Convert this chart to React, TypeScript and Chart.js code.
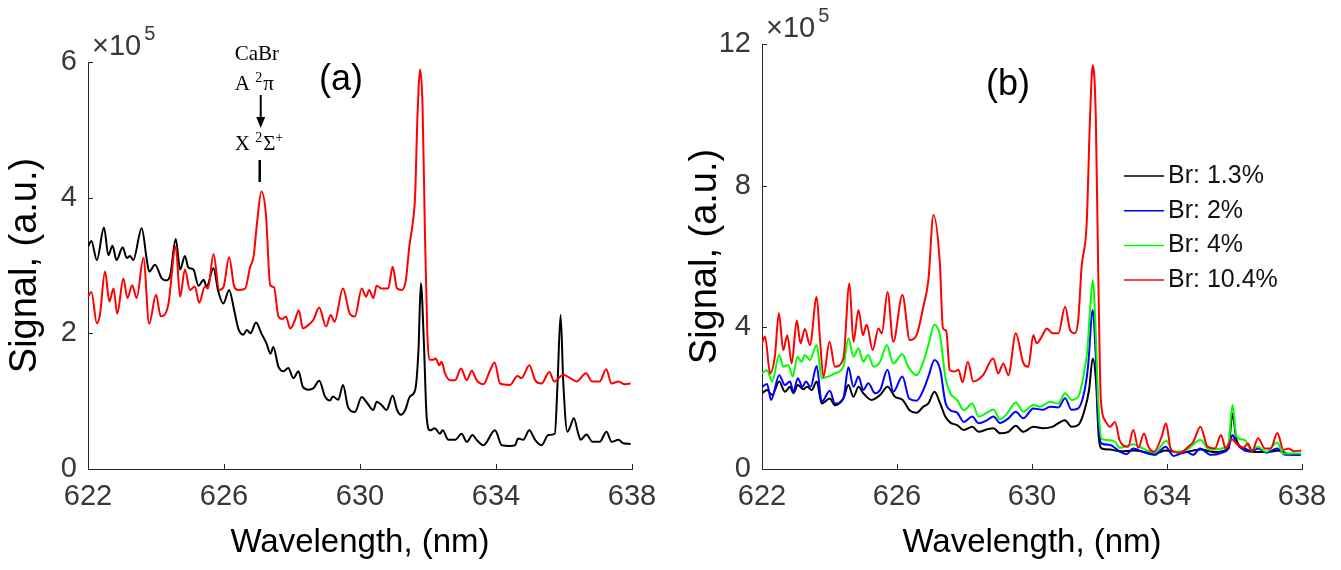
import React, { useEffect, useRef } from "react";
import { Chart, registerables } from "chart.js";

Chart.register(...registerables);

// ---------------- Panel (a) data (signal in units of 1e5) ----------------
const aBlackX = [
  622.0, 622.1, 622.26, 622.47, 622.6, 622.72, 622.84, 623.02, 623.14, 623.24, 623.33, 623.58, 623.73, 623.8,
  623.97, 624.17, 624.3, 624.42, 624.58, 624.71, 624.85, 624.95, 625.1, 625.25, 625.4, 625.49, 625.69, 625.83,
  625.98, 626.15, 626.3, 626.42, 626.57, 626.67, 626.78, 626.94, 627.1, 627.25, 627.37, 627.45, 627.6, 627.75,
  627.89, 628.04, 628.19, 628.32, 628.48, 628.63, 628.8, 628.97, 629.12, 629.2, 629.36, 629.5, 629.65, 629.85,
  630.05, 630.2, 630.39, 630.49, 630.64, 630.78, 630.96, 631.09, 631.2, 631.33, 631.47, 631.62, 631.72, 631.79,
  631.88, 631.96, 632.06, 632.2, 632.35, 632.43, 632.6, 632.8, 632.99, 633.14, 633.31, 633.43, 633.63, 633.97,
  634.17, 634.41, 634.56, 634.65, 634.8, 634.98, 635.15, 635.34, 635.54, 635.73, 635.81, 635.9, 635.98, 636.1,
  636.18, 636.29, 636.42, 636.49, 636.66, 636.84, 637.05, 637.25, 637.4, 637.6, 637.74, 637.96,
];
const aBlackY = [
  3.28, 3.36, 3.08, 3.56, 3.15, 3.29, 3.08, 3.27, 3.11, 3.14, 3.08, 3.55, 3.08, 2.91,
  3.01, 2.81, 2.78, 2.86, 3.39, 2.94, 3.14, 2.97, 2.94, 2.7, 2.79, 2.69, 2.96, 2.62,
  2.44, 2.64, 2.34, 2.07, 1.98, 2.05, 2.0, 2.16, 2.0, 1.85, 1.7, 1.8, 1.51, 1.44,
  1.49, 1.34, 1.44, 1.21, 1.17, 1.19, 1.3, 1.07, 1.01, 1.07, 1.02, 1.24, 0.91, 0.84,
  1.06, 0.98, 0.87, 0.99, 0.94, 0.87, 1.08, 0.87, 0.8, 0.87, 1.07, 1.16, 1.76, 2.74,
  1.85, 0.77, 0.57, 0.6, 0.52, 0.57, 0.43, 0.43, 0.52, 0.4, 0.5, 0.43, 0.35, 0.57,
  0.35, 0.34, 0.35, 0.45, 0.43, 0.57, 0.43, 0.35, 0.5, 0.52, 1.26, 2.27, 1.26, 0.55,
  0.62, 0.75, 0.52, 0.43, 0.51, 0.4, 0.4, 0.55, 0.4, 0.43, 0.38, 0.37,
];
const aRedX = [
  622.0, 622.1, 622.26, 622.35, 622.5, 622.63, 622.75, 622.86, 623.04, 623.16, 623.3, 623.43, 623.63, 623.8,
  624.0, 624.14, 624.36, 624.58, 624.71, 624.85, 625.0, 625.14, 625.27, 625.44, 625.53, 625.69, 625.86, 625.99,
  626.15, 626.3, 626.42, 626.62, 626.77, 626.87, 626.97, 627.1, 627.23, 627.36, 627.47, 627.6, 627.72, 627.82,
  627.95, 628.09, 628.2, 628.32, 628.45, 628.63, 628.8, 629.0, 629.14, 629.25, 629.5, 629.7, 629.85, 630.05,
  630.18, 630.27, 630.39, 630.49, 630.64, 630.83, 630.96, 631.09, 631.23, 631.35, 631.45, 631.55, 631.62, 631.69,
  631.77, 631.84, 631.91, 631.98, 632.04, 632.16, 632.23, 632.33, 632.4, 632.5, 632.65, 632.8, 632.97, 633.14,
  633.29, 633.43, 633.63, 633.83, 633.96, 634.12, 634.41, 634.63, 634.75, 634.98, 635.15, 635.34, 635.57, 635.71,
  635.98, 636.18, 636.37, 636.65, 636.82, 637.05, 637.24, 637.4, 637.6, 637.79, 637.96,
];
const aRedY = [
  2.54, 2.61, 2.15, 2.27, 2.91, 2.47, 2.66, 2.29, 2.81, 2.52, 2.71, 2.52, 3.11, 2.14,
  2.57, 2.25, 2.42, 3.28, 2.54, 2.94, 2.64, 2.69, 2.45, 2.69, 2.66, 3.17, 2.64, 2.69,
  3.12, 2.69, 2.64, 2.66, 2.98, 3.13, 3.62, 4.09, 3.77, 2.71, 2.68, 2.25, 2.21, 2.25,
  2.07, 2.2, 2.34, 2.07, 2.11, 2.2, 2.38, 2.1, 2.27, 2.17, 2.66, 2.29, 2.25, 2.66,
  2.54, 2.64, 2.52, 2.7, 2.66, 2.66, 2.98, 2.66, 2.64, 2.79, 3.28, 3.62, 4.02, 5.2,
  5.89, 5.34, 3.48, 2.0, 1.61, 1.61, 1.63, 1.53, 1.58, 1.41, 1.31, 1.31, 1.48, 1.31,
  1.45, 1.31, 1.25, 1.46, 1.57, 1.26, 1.24, 1.37, 1.34, 1.53, 1.31, 1.26, 1.43, 1.29,
  1.39, 1.34, 1.29, 1.41, 1.29, 1.29, 1.47, 1.26, 1.29, 1.25, 1.26,
];

// ---------------- Panel (b) data (signal in units of 1e5) ----------------
const bBlackX = [
  622.0, 622.15, 622.3, 622.51, 622.68, 622.83, 622.93, 623.06, 623.22, 623.34, 623.47, 623.62, 623.77, 624.01,
  624.16, 624.41, 624.56, 624.71, 624.86, 625.0, 625.25, 625.5, 625.72, 625.94, 626.17, 626.37, 626.58, 626.78,
  626.93, 627.11, 627.28, 627.43, 627.58, 627.78, 627.98, 628.23, 628.42, 628.67, 628.86, 629.05, 629.3, 629.52,
  629.74, 630.04, 630.33, 630.6, 630.98, 631.17, 631.37, 631.56, 631.69, 631.8, 631.9, 631.97, 632.06, 632.31,
  632.6, 633.0, 633.64, 633.96, 634.38, 634.99, 635.4, 635.82, 635.94, 636.06, 636.3, 636.6, 637.0, 637.3,
  637.6, 637.96,
];
const bBlackY = [
  2.14, 2.23, 2.09, 2.47, 2.18, 2.32, 2.14, 2.37, 2.25, 2.32, 2.23, 2.47, 1.85, 1.99,
  1.8, 1.99, 2.37, 2.04, 2.32, 2.14, 1.95, 2.09, 2.32, 2.04, 1.95, 1.66, 1.59, 1.76,
  1.85, 2.18, 1.85, 1.48, 1.31, 1.24, 1.1, 1.19, 1.05, 1.12, 1.15, 1.01, 1.05, 1.22,
  1.05, 1.19, 1.15, 1.19, 1.38, 1.19, 1.24, 1.67, 2.23, 3.12, 2.42, 1.0, 0.58, 0.55,
  0.5, 0.52, 0.44, 0.52, 0.46, 0.55, 0.48, 0.58, 1.57, 0.82, 0.58, 0.48, 0.48, 0.52,
  0.42, 0.4,
];
const bBlueX = [
  622.0, 622.15, 622.27, 622.51, 622.68, 622.83, 622.93, 623.06, 623.2, 623.3, 623.44, 623.62, 623.77, 624.01,
  624.16, 624.41, 624.56, 624.71, 624.86, 625.0, 625.15, 625.35, 625.5, 625.72, 625.89, 626.16, 626.36, 626.58,
  626.78, 626.93, 627.11, 627.28, 627.43, 627.58, 627.78, 627.98, 628.23, 628.42, 628.67, 628.86, 629.05, 629.3,
  629.52, 629.74, 630.04, 630.33, 630.53, 630.78, 630.98, 631.17, 631.37, 631.56, 631.66, 631.8, 631.89, 631.96,
  632.06, 632.31, 632.6, 632.8, 633.0, 633.29, 633.64, 633.96, 634.19, 634.58, 634.78, 634.98, 635.3, 635.62,
  635.82, 635.94, 636.06, 636.3, 636.5, 636.7, 636.94, 637.27, 637.5, 637.96,
];
const bBlueY = [
  2.32, 2.4, 1.95, 2.65, 2.37, 2.47, 2.18, 2.56, 2.32, 2.47, 2.32, 2.91, 1.9, 2.21,
  1.85, 1.99, 2.87, 2.32, 2.61, 2.23, 2.42, 2.14, 2.23, 2.8, 2.18, 2.61, 1.99, 1.93,
  2.23, 2.61, 3.08, 2.8, 1.9, 1.66, 1.59, 1.33, 1.48, 1.29, 1.38, 1.48, 1.3, 1.43,
  1.62, 1.43, 1.71, 1.67, 1.76, 1.74, 2.0, 1.67, 1.71, 2.23, 2.89, 4.49, 3.17, 1.47,
  0.72, 0.68, 0.49, 0.42, 0.58, 0.48, 0.4, 0.63, 0.37, 0.48, 0.4, 0.58, 0.4, 0.46,
  0.58, 0.96, 0.72, 0.52, 0.49, 0.58, 0.46, 0.58, 0.4, 0.4,
];
const bGreenX = [
  622.0, 622.15, 622.3, 622.51, 622.63, 622.78, 622.91, 623.05, 623.17, 623.27, 623.42, 623.62, 623.77, 623.96,
  624.16, 624.41, 624.56, 624.71, 624.86, 625.0, 625.15, 625.3, 625.5, 625.7, 625.89, 626.16, 626.33, 626.58,
  626.78, 626.93, 627.11, 627.28, 627.43, 627.58, 627.78, 627.98, 628.23, 628.42, 628.67, 628.86, 629.05, 629.25,
  629.52, 629.74, 630.04, 630.24, 630.53, 630.78, 630.98, 631.17, 631.37, 631.52, 631.64, 631.72, 631.8, 631.89,
  631.96, 632.06, 632.21, 632.46, 632.6, 633.0, 633.29, 633.64, 633.98, 634.19, 634.58, 634.99, 635.27, 635.62,
  635.82, 635.94, 636.06, 636.3, 636.5, 636.69, 636.94, 637.27, 637.44, 637.75, 637.96,
];
const bGreenY = [
  2.7, 2.79, 2.47, 3.22, 2.89, 2.94, 2.61, 3.17, 3.03, 3.22, 3.08, 3.5, 2.56, 2.61,
  2.7, 2.89, 3.69, 3.17, 3.41, 3.03, 3.22, 2.89, 3.03, 3.5, 2.98, 3.24, 2.89, 2.65,
  3.03, 3.5, 4.07, 3.74, 2.61, 2.14, 1.95, 1.66, 1.85, 1.48, 1.59, 1.68, 1.4, 1.55,
  1.88, 1.62, 1.81, 1.76, 1.9, 1.85, 2.14, 1.95, 2.04, 2.61, 3.36, 4.49, 5.33, 3.83,
  1.95, 0.86, 0.82, 0.77, 0.6, 0.7, 0.58, 0.46, 0.8, 0.49, 0.54, 0.82, 0.54, 0.58,
  0.72, 1.81, 0.91, 0.82, 0.54, 0.63, 0.49, 0.75, 0.44, 0.44, 0.44,
];
const bRedX = [
  622.0, 622.09, 622.24, 622.38, 622.5, 622.63, 622.75, 622.88, 623.03, 623.14, 623.27, 623.42, 623.62, 623.72,
  623.82, 624.0, 624.16, 624.41, 624.59, 624.71, 624.86, 624.99, 625.1, 625.28, 625.45, 625.55, 625.72, 625.89,
  626.16, 626.38, 626.58, 626.78, 626.93, 627.08, 627.27, 627.36, 627.46, 627.56, 627.7, 627.82, 627.94, 628.1,
  628.26, 628.55, 628.85, 629.0, 629.15, 629.3, 629.52, 629.74, 629.89, 630.04, 630.14, 630.29, 630.44, 630.61,
  630.78, 630.98, 631.13, 631.27, 631.37, 631.47, 631.62, 631.72, 631.8, 631.89, 631.96, 632.04, 632.16, 632.31,
  632.46, 632.6, 632.85, 633.0, 633.15, 633.32, 633.45, 633.62, 633.84, 633.97, 634.12, 634.38, 634.63, 634.78,
  634.99, 635.2, 635.42, 635.6, 635.74, 635.92, 636.06, 636.26, 636.4, 636.52, 636.7, 636.9, 637.07, 637.27,
  637.45, 637.6, 637.77, 637.98,
];
const bRedY = [
  3.55, 3.74, 2.7, 3.17, 4.4, 3.36, 3.78, 2.98, 4.19, 3.55, 3.95, 3.5, 4.86, 3.64,
  2.6, 3.59, 2.89, 3.12, 5.24, 3.59, 4.49, 3.78, 4.07, 3.36, 3.97, 3.83, 5.0, 3.59,
  4.91, 3.64, 3.78, 4.58, 5.33, 7.17, 5.81, 3.98, 3.9, 2.8, 2.75, 2.8, 2.45, 3.03,
  2.47, 2.65, 3.12, 2.7, 2.98, 2.65, 3.83, 3.0, 2.89, 3.78, 3.55, 3.74, 3.97, 3.83,
  3.83, 4.58, 3.92, 3.83, 4.21, 5.71, 6.93, 9.94, 11.4, 9.94, 5.71, 1.95, 1.38, 1.19,
  1.33, 0.8, 0.63, 1.1, 0.6, 1.0, 0.63, 0.49, 0.91, 1.29, 0.54, 0.46, 0.63, 0.77,
  1.19, 0.63, 0.58, 0.96, 0.58, 0.84, 0.72, 0.6, 0.72, 0.5, 0.87, 0.58, 0.58, 1.02,
  0.54, 0.58, 0.5, 0.52,
];

// ---------------- Axis / label text ----------------
const xTickValues = [622, 626, 630, 634, 638];
const aYTicks = [0, 2, 4, 6];
const bYTicks = [0, 4, 8, 12];
const legendLabels = ["Br: 1.3%", "Br: 2%", "Br: 4%", "Br: 10.4%"];
const xTitle = "Wavelength, (nm)";
const yTitle = "Signal, (a.u.)";

const SANS = '"Liberation Sans", Arial, Helvetica, sans-serif';
const SERIF = '"Liberation Serif", "Times New Roman", serif';
const AXIS = "#262626";
const TICKTXT = "#383838";

function pts(xs: number[], ys: number[]) {
  return xs.map((x, i) => ({ x, y: ys[i] }));
}

function line(ctx: CanvasRenderingContext2D, x1: number, y1: number, x2: number, y2: number) {
  ctx.beginPath();
  ctx.moveTo(x1, y1);
  ctx.lineTo(x2, y2);
  ctx.stroke();
}

const decorPlugin = {
  id: "decor",
  afterDraw(chart: any, _args: any, opts: any) {
    const { ctx, chartArea, scales } = chart;
    const xs = scales.x;
    const ys = scales.y;
    ctx.save();
    // inward ticks
    ctx.strokeStyle = AXIS;
    ctx.lineWidth = 1;
    xs.ticks.forEach((t: any) => {
      const px = Math.round(xs.getPixelForValue(t.value)) + 0.5;
      line(ctx, px, chartArea.bottom, px, chartArea.bottom - 5);
    });
    ys.ticks.forEach((t: any) => {
      const py = Math.round(ys.getPixelForValue(t.value)) + 0.5;
      line(ctx, chartArea.left, py, chartArea.left + 5, py);
    });
    // exponent label
    ctx.fillStyle = TICKTXT;
    ctx.textBaseline = "alphabetic";
    ctx.textAlign = "left";
    ctx.font = `29px ${SANS}`;
    const ex = chartArea.left + 4;
    const ey = chartArea.top - 7;
    ctx.fillText("\u00d710", ex, ey);
    const w = ctx.measureText("\u00d710").width;
    ctx.font = `20px ${SANS}`;
    ctx.fillText("5", ex + w + 3, ey - 15);
    // panel label
    ctx.fillStyle = "#000";
    ctx.font = `36px ${SANS}`;
    ctx.textAlign = "center";
    ctx.textBaseline = "middle";
    ctx.fillText(opts.panel, chartArea.left + opts.panelDx, chartArea.top + opts.panelDy);
    ctx.restore();
  },
};

const annotationPlugin = {
  id: "cabr",
  afterDraw(chart: any) {
    const { ctx, scales } = chart;
    const ax = scales.x.getPixelForValue(627.08);
    const top = scales.y.getPixelForValue(6);
    const left = ax - 26;
    ctx.save();
    ctx.fillStyle = "#000";
    ctx.strokeStyle = "#000";
    ctx.textAlign = "left";
    ctx.textBaseline = "alphabetic";
    const big = `21px ${SERIF}`;
    const small = `14px ${SERIF}`;
    ctx.font = big;
    ctx.fillText("CaBr", left, top - 2);
    // A ^2 pi
    let x = left;
    let y = top + 28;
    ctx.fillText("A", x, y);
    x += ctx.measureText("A ").width;
    ctx.font = small;
    ctx.fillText("2", x, y - 8);
    x += ctx.measureText("2").width + 1;
    ctx.font = big;
    ctx.fillText("\u03c0", x, y);
    // arrow
    ctx.lineWidth = 2;
    line(ctx, ax, top + 33, ax, top + 58);
    ctx.beginPath();
    ctx.moveTo(ax - 4.5, top + 55);
    ctx.lineTo(ax + 4.5, top + 55);
    ctx.lineTo(ax, top + 66);
    ctx.closePath();
    ctx.fill();
    // X ^2 Sigma ^+
    x = left;
    y = top + 88;
    ctx.font = big;
    ctx.fillText("X", x, y);
    x += ctx.measureText("X ").width;
    ctx.font = small;
    ctx.fillText("2", x, y - 8);
    x += ctx.measureText("2").width + 1;
    ctx.font = big;
    ctx.fillText("\u03a3", x, y);
    x += ctx.measureText("\u03a3").width;
    ctx.font = small;
    ctx.fillText("+", x, y - 8);
    // bar
    ctx.lineWidth = 2.5;
    line(ctx, ax - 1, top + 98, ax - 1, top + 120);
    ctx.restore();
  },
};

const legendPlugin = {
  id: "customLegend",
  afterDraw(chart: any) {
    const { ctx, chartArea } = chart;
    const x0 = chartArea.left + 362;
    const y0 = chartArea.top + 132;
    ctx.save();
    ctx.font = `25px ${SANS}`;
    ctx.textAlign = "left";
    ctx.textBaseline = "middle";
    chart.data.datasets.forEach((ds: any, i: number) => {
      const y = y0 + i * 34.7;
      ctx.strokeStyle = ds.borderColor;
      ctx.lineWidth = 1.5;
      line(ctx, x0, y, x0 + 40, y);
      ctx.fillStyle = "#111";
      ctx.fillText(ds.label, x0 + 44, y);
    });
    ctx.restore();
  },
};

function makeScales(yMax: number, yTicks: number[], yWidth: number) {
  return {
    x: {
      type: "linear",
      min: xTickValues[0],
      max: xTickValues[xTickValues.length - 1],
      afterBuildTicks: (s: any) => {
        s.ticks = xTickValues.map((v) => ({ value: v }));
      },
      ticks: {
        font: { family: SANS, size: 29 },
        color: TICKTXT,
        padding: 11,
        maxRotation: 0,
        autoSkip: false,
        callback: (v: any) => String(v),
      },
      grid: { display: false, drawTicks: false },
      border: { display: true, color: AXIS, width: 1 },
      title: {
        display: true,
        text: xTitle,
        color: "#000",
        font: { family: SANS, size: 33 },
        padding: { top: 0, bottom: 7 },
      },
      afterFit: (s: any) => {
        s.height = 101;
      },
    },
    y: {
      type: "linear",
      min: 0,
      max: yMax,
      afterBuildTicks: (s: any) => {
        s.ticks = yTicks.map((v) => ({ value: v }));
      },
      ticks: {
        font: { family: SANS, size: 29 },
        color: TICKTXT,
        padding: 11,
        autoSkip: false,
        callback: (v: any) => String(v),
      },
      grid: { display: false, drawTicks: false },
      border: { display: true, color: AXIS, width: 1 },
      title: {
        display: true,
        text: yTitle,
        color: "#000",
        font: { family: SANS, size: 38 },
        padding: { top: 3, bottom: 0 },
      },
      afterFit: (s: any) => {
        s.width = yWidth;
      },
    },
  };
}

function ds(label: string, color: string, xs: number[], ys: number[], order: number) {
  return {
    label,
    data: pts(xs, ys),
    borderColor: color,
    backgroundColor: color,
    borderWidth: 2,
    pointRadius: 0,
    fill: false,
    cubicInterpolationMode: "monotone",
    order,
  };
}

export default function App() {
  const refA = useRef<HTMLCanvasElement>(null);
  const refB = useRef<HTMLCanvasElement>(null);

  useEffect(() => {
    const chartA = new Chart(refA.current as HTMLCanvasElement, {
      type: "line",
      data: {
        datasets: [
          ds("black", "#000000", aBlackX, aBlackY, 2),
          ds("red", "#ff0000", aRedX, aRedY, 1),
        ],
      } as any,
      options: {
        animation: false,
        responsive: false,
        maintainAspectRatio: false,
        layout: { padding: { left: 0, right: 48, top: 62, bottom: 0 } },
        plugins: {
          legend: { display: false },
          tooltip: { enabled: false },
          decor: { panel: "(a)", panelDx: 253, panelDy: 18 },
        } as any,
        scales: makeScales(6, aYTicks, 88) as any,
      },
      plugins: [decorPlugin, annotationPlugin],
    });

    const chartB = new Chart(refB.current as HTMLCanvasElement, {
      type: "line",
      data: {
        datasets: [
          ds(legendLabels[0], "#000000", bBlackX, bBlackY, 4),
          ds(legendLabels[1], "#0000ff", bBlueX, bBlueY, 3),
          ds(legendLabels[2], "#00ff00", bGreenX, bGreenY, 2),
          ds(legendLabels[3], "#ff0000", bRedX, bRedY, 1),
        ],
      } as any,
      options: {
        animation: false,
        responsive: false,
        maintainAspectRatio: false,
        layout: { padding: { left: 0, right: 39, top: 44, bottom: 0 } },
        plugins: {
          legend: { display: false },
          tooltip: { enabled: false },
          decor: { panel: "(b)", panelDx: 246, panelDy: 41 },
        } as any,
        scales: makeScales(12, bYTicks, 82) as any,
      },
      plugins: [decorPlugin, legendPlugin],
    });

    return () => {
      chartA.destroy();
      chartB.destroy();
    };
  }, []);

  return (
    <div style={{ position: "fixed", left: 0, top: 0, width: 1341, height: 570, background: "#ffffff" }}>
      <canvas
        ref={refA}
        width={680}
        height={570}
        style={{ position: "absolute", left: 0, top: 0, width: 680, height: 570 }}
      />
      <canvas
        ref={refB}
        width={661}
        height={570}
        style={{ position: "absolute", left: 680, top: 0, width: 661, height: 570 }}
      />
    </div>
  );
}
